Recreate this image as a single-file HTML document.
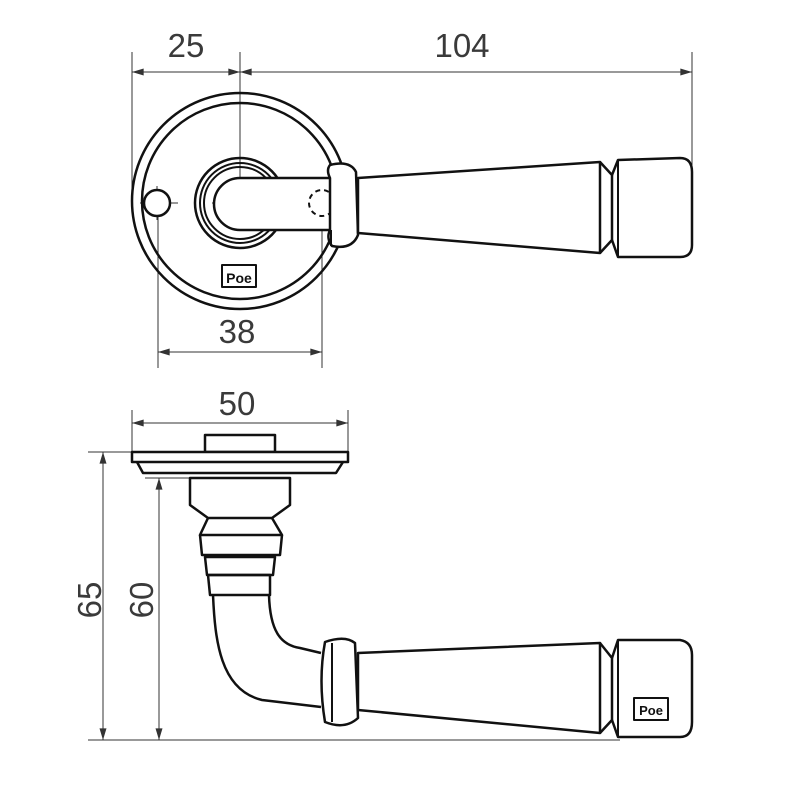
<!DOCTYPE html>
<html><head><style>html,body{margin:0;padding:0;background:#fff}svg{display:block}</style></head><body>
<svg width="800" height="800" viewBox="0 0 800 800" xmlns="http://www.w3.org/2000/svg">
<defs>
<marker id="a" viewBox="0 0 10 6" refX="10" refY="3" markerWidth="14" markerHeight="7" markerUnits="userSpaceOnUse" orient="auto-start-reverse"><path d="M0,0L10,3L0,6z" fill="#333"/></marker>
</defs>
<g font-family="'Liberation Sans Narrow','Liberation Sans',sans-serif" font-size="33" fill="#3a3a3a" text-anchor="middle">
<text x="186" y="57">25</text>
<text x="462" y="57">104</text>
<text x="237" y="343">38</text>
<text x="237" y="415">50</text>
<text transform="translate(101,600) rotate(-90)">65</text>
<text transform="translate(153,600) rotate(-90)">60</text>
</g>
<g stroke="#333" stroke-width="1" fill="none">
<line x1="132" y1="52" x2="132" y2="205"/>
<line x1="240" y1="52" x2="240" y2="228"/>
<line x1="692" y1="52" x2="692" y2="165"/>
<line x1="132" y1="72" x2="240" y2="72" marker-start="url(#a)" marker-end="url(#a)"/>
<line x1="240" y1="72" x2="692" y2="72" marker-start="url(#a)" marker-end="url(#a)"/>
<line x1="158" y1="190" x2="158" y2="368"/>
<line x1="322" y1="190" x2="322" y2="368"/>
<line x1="158" y1="352" x2="322" y2="352" marker-start="url(#a)" marker-end="url(#a)"/>
<line x1="132" y1="410" x2="132" y2="452"/>
<line x1="348" y1="410" x2="348" y2="452"/>
<line x1="132" y1="423" x2="348" y2="423" marker-start="url(#a)" marker-end="url(#a)"/>
<line x1="88" y1="452" x2="132" y2="452"/>
<line x1="145" y1="478" x2="190" y2="478"/>
<line x1="88" y1="740" x2="620" y2="740"/>
<line x1="103" y1="452" x2="103" y2="740" marker-start="url(#a)" marker-end="url(#a)"/>
<line x1="159" y1="478" x2="159" y2="740" marker-start="url(#a)" marker-end="url(#a)"/>
<line x1="140" y1="203" x2="178" y2="203"/>
<line x1="157" y1="186" x2="157" y2="220"/>
<line x1="212" y1="203" x2="262" y2="203"/>
<line x1="300" y1="203" x2="344" y2="203"/>
</g>
<g stroke="#111" stroke-width="2.5" fill="none" stroke-linejoin="round">
<circle cx="240" cy="201" r="108"/>
<circle cx="240" cy="201" r="98"/>
<circle cx="157" cy="203" r="13" fill="#fff"/>
<circle cx="240" cy="203" r="45"/>
<circle cx="240" cy="203" r="40" stroke-width="2"/>
<circle cx="240" cy="203" r="36" stroke-width="2"/>
<path d="M330,178 L240,178 A25,25 0 0 0 240,230 L330,230" fill="#fff"/>
<circle cx="322" cy="203" r="13" stroke-width="2" stroke-dasharray="5,4"/>
<path d="M330,165 Q350,160 356,172 L358,235 Q352,250 332,246 Q326,238 330,230 L330,178 Q326,170 330,165Z" fill="#fff"/>
<line x1="331" y1="230" x2="331" y2="246" stroke-width="2"/>
<path d="M358,178 L600,162 L600,253 L358,233Z" fill="#fff"/>
<path d="M600,162 L612,175 L612,240 L600,253"/>
<path d="M612,175 L618,160 L680,158 Q692,158 692,172 L692,245 Q692,257 680,257 L618,257 L612,240"/>
<line x1="618" y1="160" x2="618" y2="257" stroke-width="2"/>
<rect x="222" y="265" width="34" height="22" stroke-width="2"/>
<text x="239" y="283" font-family="'Liberation Sans',sans-serif" font-size="14" font-weight="bold" fill="#111" stroke="none" text-anchor="middle">Poe</text>
<rect x="205" y="435" width="70" height="17" fill="#fff"/>
<rect x="132" y="452" width="216" height="10" fill="#fff"/>
<path d="M137,462 L143,473 L336,473 L343,462"/>
<path d="M190,478 L290,478 L290,505 L272,518 L208,518 L190,505Z"/>
<path d="M208,518 L200,535 L282,535 L272,518"/>
<path d="M200,535 L202,555 L280,555 L282,535"/>
<path d="M205,557 L275,557 L273,575 L207,575Z"/>
<path d="M208,575 L270,575 L270,595 L210,595Z"/>
<path d="M213,595 C215,640 220,690 262,700 L321,707"/>
<path d="M269,595 C270,630 280,645 300,648 L321,653"/>
<path d="M325,642 Q345,635 355,643 L358,718 Q345,730 325,722 Q318,680 325,642Z" fill="#fff"/>
<line x1="332" y1="643" x2="332" y2="722" stroke-width="2"/>
<path d="M358,653 L600,643 L600,733 L358,710Z" fill="#fff"/>
<path d="M600,643 L612,658 L612,720 L600,733"/>
<path d="M612,658 L618,640 L680,640 Q692,642 692,655 L692,722 Q692,737 680,737 L618,737 L612,720"/>
<line x1="618" y1="640" x2="618" y2="737" stroke-width="2"/>
<rect x="634" y="698" width="34" height="22" stroke-width="2"/>
<text x="651" y="715" font-family="'Liberation Sans',sans-serif" font-size="13" font-weight="bold" fill="#111" stroke="none" text-anchor="middle">Poe</text>
</g>
</svg>
</body></html>
